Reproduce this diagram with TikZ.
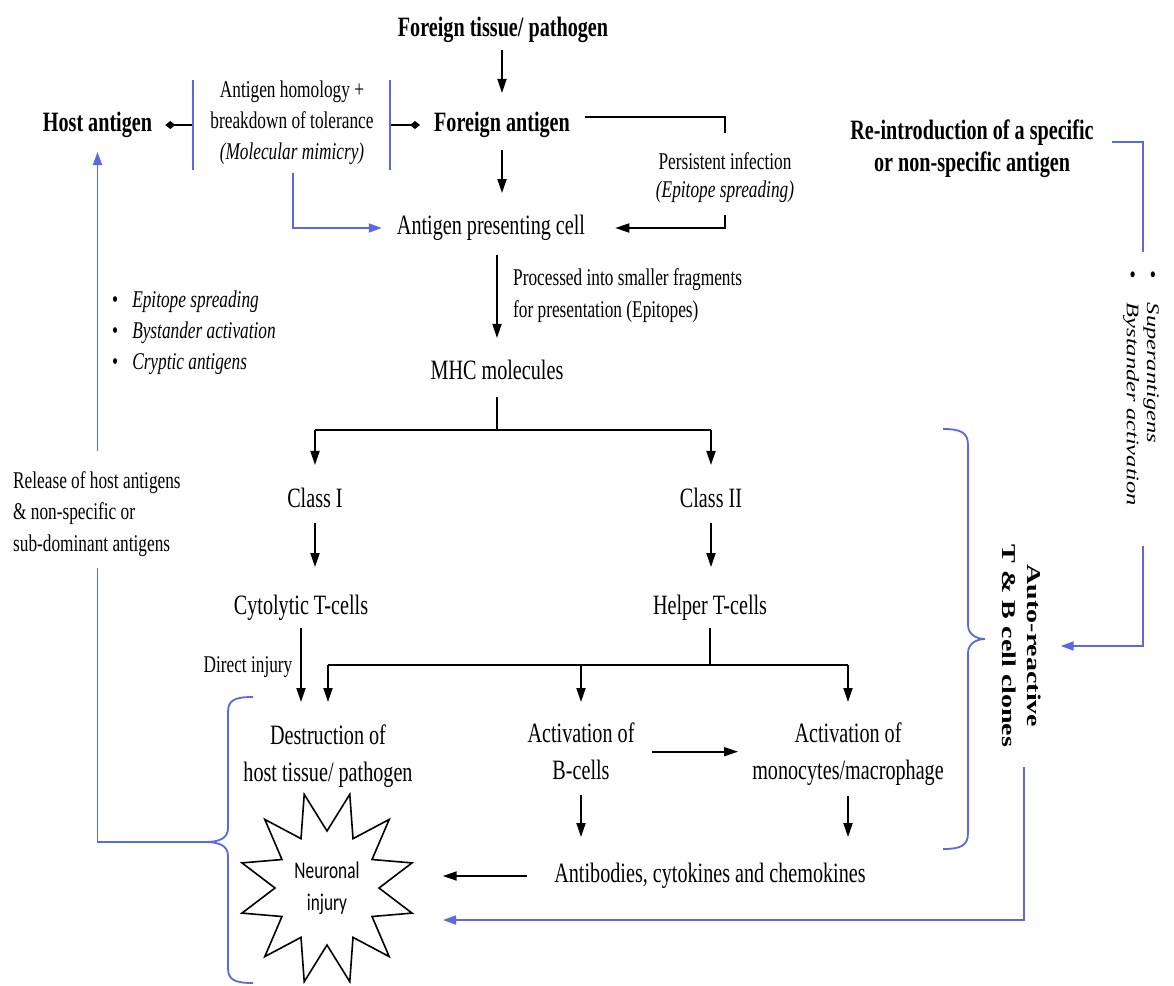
\documentclass[tikz,border=0pt]{standalone}
\usepackage{fontspec}
\usepackage{graphicx}
\setmainfont{Liberation Serif}[FakeStretch=0.72]
\newfontfamily\plainserif{Liberation Serif}
\newfontfamily\starfont{Carlito}[FakeStretch=0.72]
\usetikzlibrary{arrows.meta,calc}
\definecolor{bl}{RGB}{92,104,226}
\begin{document}
\begin{tikzpicture}[x=1pt,y=-1pt,
  big/.style={font=\fontsize{28}{37}\selectfont, inner sep=0pt, align=center},
  bigb/.style={font=\fontsize{28}{32}\selectfont\bfseries, inner sep=0pt, align=center},
  small/.style={font=\fontsize{24}{31}\selectfont, inner sep=0pt, align=center},
  arr/.style={line width=1.8pt, -{Triangle[length=14pt,width=9pt]}},
  ln/.style={line width=2.4pt},
  barr/.style={draw=bl, line width=1.8pt, -{Triangle[length=13pt,width=9pt]}},
  bln/.style={draw=bl, line width=1.8pt},
  dia/.style={line width=2pt, -{Diamond[length=10pt,width=8pt]}}
]
\useasboundingbox (0,0) rectangle (1174,985);
\fill[white] (0,0) rectangle (1174,985);

% ---------- nodes ----------
\node[bigb] (ft) at (503,30) {Foreign tissue/ pathogen};
\node[bigb] (fa) at (502,125) {Foreign antigen};
\node[bigb] (ha) at (97.5,125) {Host antigen};
\node[small] (mm) at (292,123) {Antigen homology +\\breakdown of tolerance\\\textit{(Molecular mimicry)}};
\node[big] (apc) at (491,228) {Antigen presenting cell};
\node[small, font=\fontsize{24}{28}\selectfont] (pi) at (725,178) {Persistent infection\\\textit{(Epitope spreading)}};
\node[small, font=\fontsize{24}{32}\selectfont, anchor=west, align=left] (proc) at (513,296) {Processed into smaller fragments\\for presentation (Epitopes)};
\node[big] (mhc) at (497,370) {MHC molecules};
\node[big] (c1) at (315,498) {Class I};
\node[big] (c2) at (711,498) {Class II};
\node[big] (ct) at (301,608) {Cytolytic T-cells};
\node[big] (ht) at (710,608) {Helper T-cells};
\node[small] (di) at (248,667) {Direct injury};
\node[big, anchor=north] (dh) at (328,725) {Destruction of\\host tissue/ pathogen};
\node[big, anchor=north] (ab) at (581,723) {Activation of\\B-cells};
\node[big, anchor=north] (am) at (848,723) {Activation of\\monocytes/macrophage};
\node[big] (acc) at (710,876) {Antibodies, cytokines and chemokines};
\node[bigb] (re) at (972,149) {Re-introduction of a specific\\or non-specific antigen};
\node[small, font=\fontsize{24}{31.5}\selectfont, anchor=west, align=left] (rel) at (13,514) {Release of host antigens\\\& non-specific or\\sub-dominant antigens};
\node[small, anchor=west, align=left] (bul) at (112,333) {•\hspace{14pt}\textit{Epitope spreading}\\•\hspace{14pt}\textit{Bystander activation}\\•\hspace{14pt}\textit{Cryptic antigens}};
\node[rotate=-90, anchor=west, inner sep=0pt] (sup) at (1141,270) {\scalebox{1}[0.72]{\plainserif\fontsize{24.5}{28}\selectfont\begin{tabular}{@{}l@{}}•\hspace{24pt}\textit{Superantigens}\\•\hspace{24pt}\textit{Bystander activation}\end{tabular}}};
\node[rotate=-90, inner sep=0pt] (auto) at (1020,646) {\scalebox{1}[0.7]{\plainserif\bfseries\fontsize{28}{35}\selectfont\begin{tabular}{@{}c@{}}Auto-reactive\\T \& B cell clones\end{tabular}}};

% ---------- star ----------
\draw[line width=1.6pt, fill=white] plot[samples at={0,...,24}, variable=\k]
  ({327+(mod(\k,2)==0 ? 88 : 52)*cos(75+15*\k)}, {888-(mod(\k,2)==0 ? 97 : 57)*sin(75+15*\k)}) -- cycle;
\node[inner sep=0pt, align=center, font=\starfont\fontsize{24}{32}\selectfont] (ni) at (327,888) {Neuronal\\injury};

% ---------- coordinates ----------
\coordinate (mmL) at (193,125);
\coordinate (mmR) at (390,125);
\coordinate (pc) at (725,117);
\coordinate (b1) at (500,430);
\coordinate (b2) at (710,665);
\coordinate (lbt) at (205,842);
\coordinate (rbt) at (985,639);
\coordinate (rc) at (1143,142);
\coordinate (inj) at (443,920);

% ---------- black connectors ----------
\draw[arr, shorten <=7pt, shorten >=19pt] (fa.north |- ft.south) -- (fa.north);
\draw[arr, shorten <=12pt, shorten >=22pt] (fa.south) -- (fa.south |- apc.north);
\draw[arr, shorten <=14pt, shorten >=22pt] (apc.south -| mhc.north) -- (mhc.north);
\draw[ln, shorten <=17pt] (mhc.south) -- (mhc.south |- b1);
\draw[ln] (c1.north |- b1) -- (c2.north |- b1);
\draw[arr, shorten >=23pt] (c1.north |- b1) -- (c1.north);
\draw[arr, shorten >=23pt] (c2.north |- b1) -- (c2.north);
\draw[arr, shorten <=15pt, shorten >=28pt] (c1.south) -- (c1.south |- ct.north);
\draw[arr, shorten <=15pt, shorten >=28pt] (c2.south) -- (c2.south |- ht.north);
\draw[arr, shorten <=7pt, shorten >=23pt] (ct.south) -- (ct.south |- dh.north);
\draw[ln, shorten <=7pt] (ht.south) -- (ht.south |- b2);
\draw[ln] (dh.north |- b2) -- (am.north |- b2);
\draw[arr, shorten >=23pt] (dh.north |- b2) -- (dh.north);
\draw[arr, shorten >=21pt] (ab.north |- b2) -- (ab.north);
\draw[arr, shorten >=21pt] (am.north |- b2) -- (am.north);
\draw[arr, shorten <=17pt, shorten >=14pt] (ab.east) -- (ab.east -| am.west);
\draw[arr, shorten <=15pt, shorten >=26pt] (ab.south) -- (ab.south |- acc.north);
\draw[arr, shorten <=10pt, shorten >=26pt] (am.south) -- (am.south |- acc.north);
\draw[arr, shorten <=27pt, shorten >=83pt] (acc.west) -- (acc.west -| ni.east);
\draw[dia, shorten >=13pt] (mmL) -- (ha.east);
\draw[dia, shorten >=14pt] (mmR) -- (fa.west);
\draw[line width=2pt] ($(fa.east |- pc)+(15,0)$) -| ($(pi.north)+(0,-20)$);
\draw[arr, shorten >=30pt] ($(pi.south)+(0,12)$) |- (apc.east);

% ---------- blue connectors ----------
\draw[bln] (193,80) -- (193,170);
\draw[bln] (390,80) -- (390,170);
\draw[barr, shorten >=15pt] ($(mm.south)+(1,8)$) |- (apc.west);
\draw[barr, shorten <=20pt, shorten >=14pt] (rel.north -| ha.south) -- (ha.south);
\draw[bln] ($(rel.south -| ha.south)+(0,11)$) |- (lbt);
\draw[bln] (253,697) .. controls (235,697) and (228,700) .. (228,712) -- (228,828)
  .. controls (228,838) and (220,842) .. (lbt)
  .. controls (220,842) and (228,846) .. (228,856) -- (228,968)
  .. controls (228,980) and (235,983) .. (253,983);
\draw[bln] (943,429) .. controls (960,429) and (968,432) .. (968,445) -- (968,625)
  .. controls (968,634) and (976,639) .. (rbt)
  .. controls (976,639) and (968,644) .. (968,653) -- (968,833)
  .. controls (968,846) and (960,849) .. (943,849);
\draw[bln] ($(re.east |- rc)+(18,0)$) -| ($(sup.west)+(2,-18)$);
\draw[barr, shorten >=16pt] ($(sup.east)+(2,40)$) |- (auto.north);
\draw[barr] ($(auto.east)+(4,20)$) |- (inj);
\end{tikzpicture}
\end{document}
